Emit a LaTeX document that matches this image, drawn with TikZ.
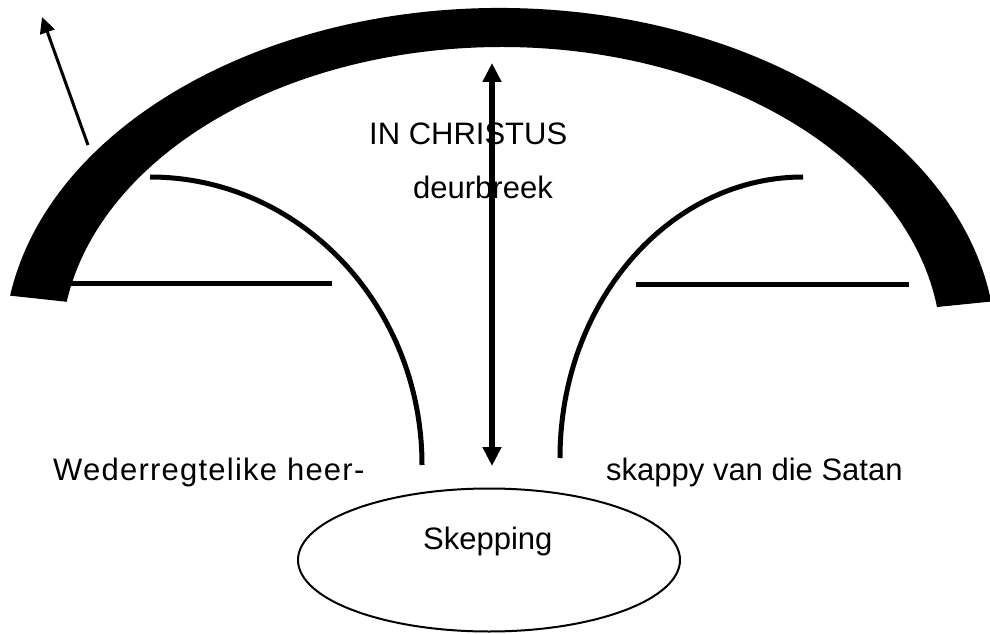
\documentclass[tikz,border=0pt]{standalone}
\usepackage{fontspec}
\setmainfont{Liberation Sans}
\usetikzlibrary{arrows.meta,shapes.geometric}
\begin{document}
\begin{tikzpicture}[x=1pt,y=1pt,
  lbl/.style={inner sep=0pt,anchor=base west,font=\fontsize{31}{37}\selectfont},
  thin/.style={line width=5pt},
  bigarrow/.style={line width=5.5pt,{Triangle[length=19pt,width=18pt]}-{Triangle[length=19pt,width=18pt]}},
  smallarrow/.style={line width=3pt,-{Triangle[length=16pt,width=15pt]}}]
\useasboundingbox (0,0) rectangle (990,633);
% block arc
\fill (500,284) ++(171:496pt and 341pt)
  arc[start angle=171,end angle=8,x radius=496pt,y radius=341pt]
  -- (937,326)
  arc[start angle=8,end angle=171,x radius=440pt,y radius=302pt] -- cycle;
% curves
\coordinate (lc0) at (150,456);
\coordinate (rc0) at (803,456);
\draw[thin] (lc0) arc[start angle=90,end angle=0,x radius=272pt,y radius=288pt];
\draw[thin] (rc0) arc[start angle=90,end angle=180,x radius=243pt,y radius=281pt];
% horizontal lines
\coordinate (hl1) at (65,350); \coordinate (hl2) at (332,350);
\coordinate (hr1) at (636,349); \coordinate (hr2) at (909,349);
\draw[thin] (hl1) -- (hl2);
\draw[thin] (hr1) -- (hr2);
% double arrow
\coordinate (dtop) at (492,570); \coordinate (dbot) at (492,167);
\draw[bigarrow] (dbot) -- (dtop);
% small arrow
\coordinate (sa1) at (88,488); \coordinate (sa2) at (42,616);
\draw[smallarrow] (sa1) -- (sa2);
% ellipse
\node[draw,line width=2pt,ellipse,minimum width=382pt,minimum height=143pt,inner sep=0pt] (skep) at (489,73) {};
\node[lbl] (t1) at (369,488.7) {IN CHRISTUS};
\node[lbl] (t2) at (413,435) {deurbreek};
\node[lbl] (t3) at (53,153) {\addfontfeature{LetterSpace=4}Wederregtelike heer-};
\node[lbl] (t4) at (606,153) {skappy van die Satan};
\node[lbl] (t5) at (423,84) {Skepping};
\end{tikzpicture}
\end{document}
